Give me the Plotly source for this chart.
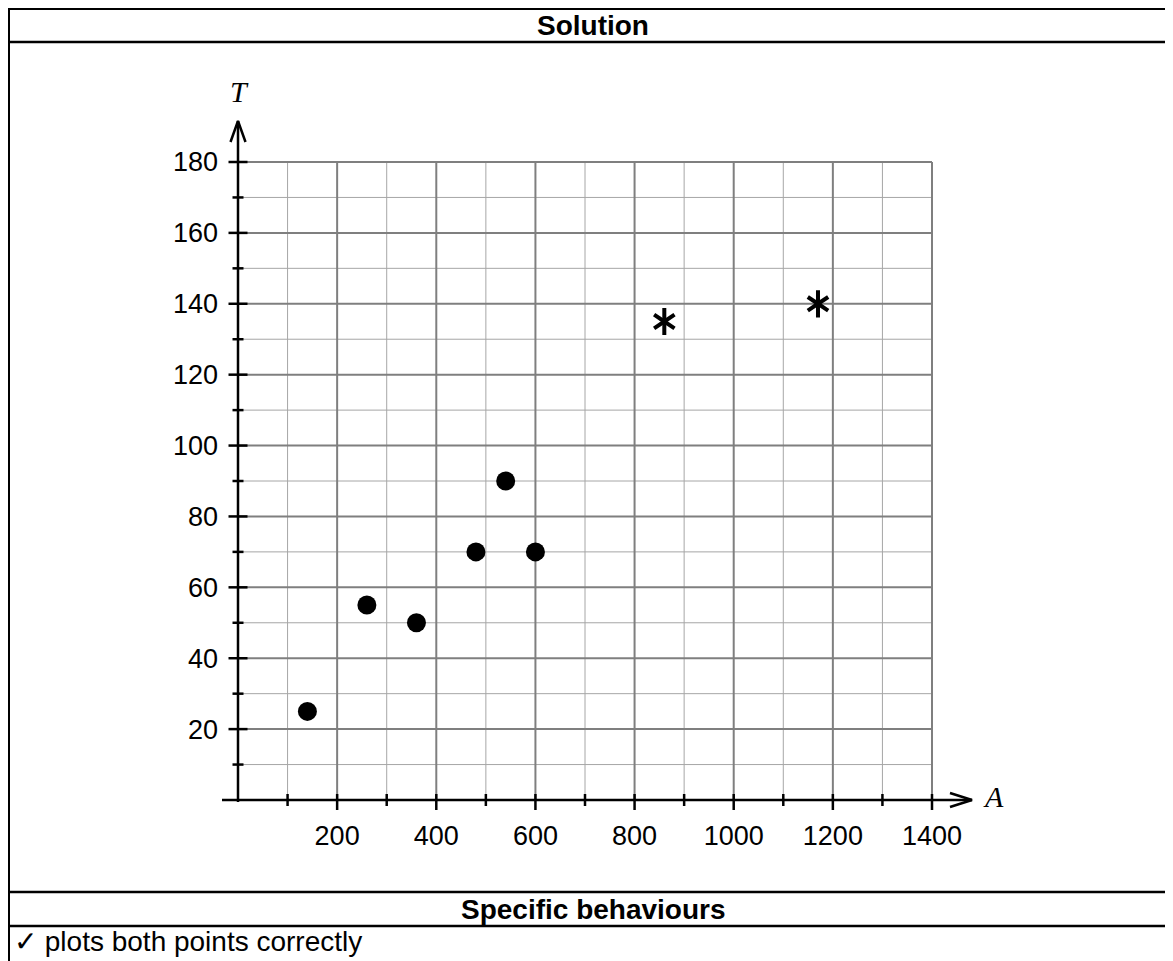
import plotly.graph_objects as go

# ---------------- data ----------------
dots_A = [140, 260, 360, 480, 540, 600]
dots_T = [25, 55, 50, 70, 90, 70]
star_A = [860, 1170]
star_T = [135, 140]

x_ticks = [200, 400, 600, 800, 1000, 1200, 1400]
y_ticks = [20, 40, 60, 80, 100, 120, 140, 160, 180]
x_max = 1400
y_max = 180
x_minor_step = 100
y_minor_step = 10

# ---------------- geometry (figure pixels; page adds an 8px body margin) ----------------
OFF = 8
W, H = 1173 - OFF, 961 - OFF
X0PX, Y0PX = 238 - OFF, 800 - OFF          # pixel of the origin
SX = (932 - 238) / 1400                    # px per unit A
SY = (800 - 162) / 180                     # px per unit T
ML, MT = 211, 109 - OFF
MR = W - 984
MB = 144
PW, PH = W - ML - MR, H - MT - MB
x_lo = (ML - X0PX) / SX
x_hi = x_lo + PW / SX
y_hi = (Y0PX - MT) / SY
y_lo = y_hi - PH / SY

def pxx(px):
    """reference-page x pixel -> paper fraction"""
    return (px - OFF - ML) / PW

def pxy(py):
    """reference-page y pixel -> paper fraction"""
    return (H - MB - (py - OFF)) / PH

FONT = "Liberation Sans, Arial, sans-serif"
SERIF = "Liberation Serif, Times New Roman, serif"

fig = go.Figure()

# grid lines
minor_x = [v for v in range(x_minor_step, x_max + 1, x_minor_step) if v not in x_ticks]
minor_y = [v for v in range(y_minor_step, y_max + 1, y_minor_step) if v not in y_ticks]

def vlines(vals, y0, y1):
    xs, ys = [], []
    for v in vals:
        xs += [v, v, None]
        ys += [y0, y1, None]
    return xs, ys

def hlines(vals, x0, x1):
    xs, ys = [], []
    for v in vals:
        xs += [x0, x1, None]
        ys += [v, v, None]
    return xs, ys

xs1, ys1 = vlines(minor_x, 0, y_max)
xs2, ys2 = hlines(minor_y, 0, x_max)
fig.add_trace(go.Scatter(x=xs1 + xs2, y=ys1 + ys2, mode="lines",
                         line=dict(color="#a6a6a6", width=1), hoverinfo="skip", showlegend=False))
xs1, ys1 = vlines(x_ticks, 0, y_max)
xs2, ys2 = hlines(y_ticks, 0, x_max)
fig.add_trace(go.Scatter(x=xs1 + xs2, y=ys1 + ys2, mode="lines",
                         line=dict(color="#7f7f7f", width=2), hoverinfo="skip", showlegend=False))

# tick marks (crossing the axes)
tx, ty = [], []
for v in range(x_minor_step, x_max + 1, x_minor_step):
    down = 10 if v in x_ticks else 6
    tx += [v, v, None]
    ty += [6 / SY, -down / SY, None]
for v in range(y_minor_step, y_max + 1, y_minor_step):
    half = 9.5 if v in y_ticks else 5.5
    tx += [-half / SX, half / SX, None]
    ty += [v, v, None]
fig.add_trace(go.Scatter(x=tx, y=ty, mode="lines", line=dict(color="black", width=2.5),
                         hoverinfo="skip", showlegend=False))

# axis lines with open arrow heads
x_tip = (972 - 238) / SX
y_tip = (800 - 121) / SY
ax_x = [-16 / SX, x_tip, None, x_tip - 22 / SX, x_tip, x_tip - 22 / SX, None,
        0, 0, None, -7.5 / SX, 0, 7.5 / SX]
ax_y = [0, 0, None, 7 / SY, 0, -7 / SY, None,
        -2 / SY, y_tip, None, y_tip - 21 / SY, y_tip, y_tip - 21 / SY]
fig.add_trace(go.Scatter(x=ax_x, y=ax_y, mode="lines", line=dict(color="black", width=2.5),
                         hoverinfo="skip", showlegend=False))

# data points
fig.add_trace(go.Scatter(x=dots_A, y=dots_T, mode="markers",
                         marker=dict(color="black", size=19), showlegend=False))
for sym in ["y-up-open", "y-down-open"]:
    fig.add_trace(go.Scatter(x=star_A, y=star_T, mode="markers",
                             marker=dict(symbol=sym, size=17, color="black",
                                         line=dict(color="black", width=4)),
                             showlegend=False))

fig.update_xaxes(range=[x_lo, x_hi], showgrid=False, zeroline=False, showline=False,
                 tickvals=x_ticks, ticktext=[str(v) for v in x_ticks], ticks="",
                 tickfont=dict(family=FONT, size=27, color="black"))
fig.update_yaxes(range=[y_lo, y_hi], showgrid=False, zeroline=False, showline=False,
                 tickvals=y_ticks, ticktext=[str(v) for v in y_ticks], ticks="",
                 tickfont=dict(family=FONT, size=27, color="black"))

# frame of the table
shapes = []
for py in [8.75, 42, 892, 926]:
    shapes.append(dict(type="line", xref="paper", yref="paper",
                       x0=pxx(8), x1=pxx(1175), y0=pxy(py), y1=pxy(py),
                       line=dict(color="black", width=2.5)))
shapes.append(dict(type="line", xref="paper", yref="paper",
                   x0=pxx(8.75), x1=pxx(8.75), y0=pxy(8), y1=pxy(965),
                   line=dict(color="black", width=2.5)))

annotations = [
    dict(text="<b>Solution</b>", x=pxx(593), y=pxy(25),
         xref="paper", yref="paper", showarrow=False, xanchor="center", yanchor="middle",
         font=dict(family=FONT, size=28, color="black")),
    dict(text="<b>Specific behaviours</b>", x=pxx(593), y=pxy(909),
         xref="paper", yref="paper", showarrow=False, xanchor="center", yanchor="middle",
         font=dict(family=FONT, size=28, color="black")),
    dict(text="✓ plots both points correctly", x=pxx(12), y=pxy(942),
         xref="paper", yref="paper", showarrow=False, xanchor="left", yanchor="middle",
         font=dict(family=FONT, size=28, color="black")),
    dict(text="<i>T</i>", x=pxx(239), y=pxy(92),
         xref="paper", yref="paper", showarrow=False, xanchor="center", yanchor="middle",
         font=dict(family=SERIF, size=30, color="black")),
    dict(text="<i>A</i>", x=pxx(993), y=pxy(796),
         xref="paper", yref="paper", showarrow=False, xanchor="center", yanchor="middle",
         font=dict(family=SERIF, size=30, color="black")),
]

fig.update_layout(width=W, height=H, margin=dict(l=ML, r=MR, t=MT, b=MB, pad=0),
                  plot_bgcolor="white", paper_bgcolor="white",
                  shapes=shapes, annotations=annotations, showlegend=False)

fig.write_html("out.html")
